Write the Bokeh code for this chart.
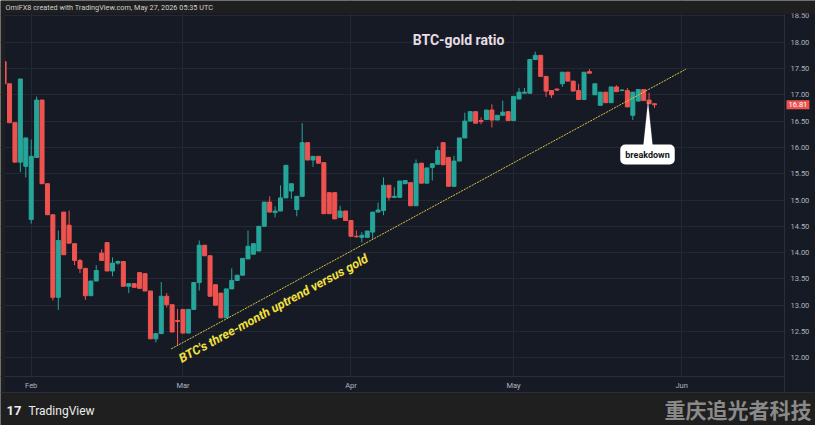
import pandas as pd
from bokeh.plotting import figure
from bokeh.models import (Range1d, FixedTicker, DatetimeTickFormatter, NumeralTickFormatter,
                          Label, ColumnDataSource, DatetimeAxis, LinearAxis, Grid,
                          BoxAnnotation, PolyAnnotation, Span)
from bokeh.embed import file_html
from bokeh.resources import INLINE

# ---------------- data ----------------
dates = pd.date_range("2026-01-27", "2026-05-27", freq="D")

opens = [17.63, 17.21, 16.47, 15.72, 15.64, 14.63, 15.81, 16.90, 15.31, 14.72,
         13.15, 14.77, 14.52, 14.17, 13.85, 13.70, 13.18, 13.46, 13.99, 14.19,
         13.65, 13.80, 13.83, 13.36, 13.41, 13.62, 13.60, 13.27, 12.36, 12.46,
         13.17, 13.01, 12.71, 12.92, 12.47, 12.92, 13.43, 14.14, 13.94, 13.39,
         13.23, 12.76, 13.31, 13.47, 13.57, 13.88, 13.97, 14.03, 14.50, 14.96,
         14.76, 14.79, 15.04, 15.17, 14.82, 15.07, 16.09, 15.76, 15.83, 15.71,
         15.14, 15.14, 14.67, 14.79, 14.61, 14.31, 14.29, 14.29, 14.39, 14.77,
         14.80, 15.28, 15.05, 15.05, 15.31, 15.33, 14.89, 15.70, 15.32, 15.62,
         15.68, 16.09, 15.81, 15.26, 15.74, 16.18, 16.50, 16.68, 16.51, 16.53,
         16.71, 16.52, 16.61, 16.68, 16.51, 16.92, 17.03, 17.03, 17.67, 17.75,
         17.35, 17.08, 17.11, 17.21, 17.43, 17.26, 17.08, 16.91, 17.44, 17.00,
         16.80, 17.05, 16.85, 17.15, 17.08, 17.08, 16.61, 16.88, 17.10, 16.90,
         16.83]
highs = [17.63, 17.21, 16.47, 17.30, 16.18, 16.15, 16.97, 16.90, 15.31, 14.72,
         14.42, 14.77, 14.80, 14.17, 13.88, 13.70, 13.46, 13.76, 14.06, 14.19,
         13.91, 13.85, 13.83, 13.41, 13.41, 13.62, 13.60, 13.27, 12.46, 13.44,
         13.23, 13.01, 12.93, 12.92, 12.92, 13.43, 14.23, 14.14, 13.94, 13.39,
         13.23, 13.31, 13.70, 13.57, 13.89, 14.42, 14.17, 14.50, 14.96, 15.07,
         14.88, 15.28, 15.66, 15.31, 15.07, 16.46, 16.09, 15.83, 15.83, 15.71,
         15.14, 15.14, 14.89, 14.79, 14.61, 14.42, 14.39, 14.41, 14.77, 14.95,
         15.43, 15.28, 15.24, 15.36, 15.37, 15.33, 15.77, 15.70, 15.61, 15.69,
         16.02, 16.09, 15.81, 15.84, 16.18, 16.66, 16.68, 16.68, 16.57, 16.71,
         16.82, 16.61, 16.89, 16.68, 16.97, 17.13, 17.13, 17.67, 17.82, 17.75,
         17.35, 17.08, 17.11, 17.43, 17.43, 17.26, 17.21, 17.43, 17.49, 17.21,
         17.05, 17.05, 17.15, 17.18, 17.11, 17.13, 17.05, 17.10, 17.10, 17.04,
         16.83]
lows = [17.21, 16.47, 15.72, 15.53, 15.43, 14.55, 15.81, 15.31, 14.72, 13.09,
        12.91, 13.96, 14.18, 13.76, 13.61, 13.10, 13.18, 13.46, 13.85, 13.65,
        13.55, 13.77, 13.36, 13.23, 13.34, 13.32, 13.27, 12.36, 12.29, 12.46,
        12.96, 12.49, 12.23, 12.47, 12.47, 12.92, 13.28, 13.94, 13.17, 13.00,
        12.76, 12.76, 13.31, 13.47, 13.57, 13.88, 13.97, 14.03, 14.50, 14.77,
        14.67, 14.79, 15.04, 15.02, 14.69, 15.07, 15.76, 15.63, 15.70, 14.74,
        14.74, 14.64, 14.67, 14.61, 14.31, 14.29, 14.19, 14.29, 14.26, 14.77,
        14.71, 14.99, 15.05, 15.05, 15.31, 14.89, 14.89, 15.32, 15.32, 15.37,
        15.68, 15.67, 15.26, 15.26, 15.74, 16.18, 16.50, 16.46, 16.44, 16.53,
        16.38, 16.52, 16.61, 16.51, 16.51, 16.92, 17.03, 17.03, 17.67, 17.35,
        16.96, 16.94, 17.07, 17.15, 17.26, 17.07, 16.91, 16.91, 17.41, 17.00,
        16.80, 16.85, 16.85, 17.06, 17.07, 16.77, 16.52, 16.88, 16.89, 16.83,
        16.75]
closes = [17.21, 16.47, 15.72, 17.30, 16.18, 15.83, 16.90, 15.31, 14.72, 13.15,
          14.23, 13.96, 14.18, 13.85, 13.70, 13.18, 13.46, 13.66, 13.85, 13.65,
          13.80, 13.83, 13.36, 13.41, 13.34, 13.32, 13.27, 12.36, 12.46, 13.17,
          13.01, 12.49, 12.69, 12.47, 12.92, 13.43, 14.14, 13.94, 13.17, 13.00,
          12.76, 13.31, 13.47, 13.57, 13.89, 14.12, 14.17, 14.50, 14.96, 14.77,
          14.79, 15.04, 15.66, 15.31, 15.07, 16.09, 15.76, 15.83, 15.70, 14.74,
          14.74, 14.64, 14.79, 14.61, 14.31, 14.30, 14.33, 14.41, 14.77, 14.81,
          15.28, 15.05, 15.07, 15.36, 15.37, 14.89, 15.69, 15.32, 15.61, 15.69,
          15.94, 15.67, 15.26, 15.74, 16.18, 16.50, 16.68, 16.46, 16.49, 16.71,
          16.52, 16.61, 16.67, 16.51, 16.97, 17.05, 17.05, 17.67, 17.75, 17.35,
          17.07, 17.00, 17.09, 17.43, 17.26, 17.07, 16.91, 17.43, 17.41, 17.21,
          17.05, 16.85, 17.15, 17.06, 17.09, 16.77, 17.05, 17.10, 16.89, 16.83,
          16.81]

month_ticks = ["2026-02-01", "2026-03-01", "2026-04-01", "2026-05-01", "2026-06-01"]
price_ticks = [12.0, 12.5, 13.0, 13.5, 14.0, 14.5, 15.0, 15.5, 16.0, 16.5, 17.0, 17.5, 18.0, 18.5]
last_price = 16.81
trend_dates = ["2026-02-26 20:00", "2026-06-01 20:00"]
trend_values = [12.17, 17.49]

title_text = "BTC-gold ratio"
trend_text = "BTC's three-month uptrend versus gold"
callout_text = "breakdown"
header_text = "OmiFX8 created with TradingView.com, May 27, 2026 05:35 UTC"
logo_text = "17"
brand_text = "TradingView"
watermark_text = "重庆追光者科技"


def ms(t):
    return pd.Timestamp(t).timestamp() * 1000.0


# ---------------- layout constants (pixels of the 815x425 canvas) ----------------
W, H = 815, 425
DAY = 86400000.0
PX_PER_DAY = 5.42
FEB1_PX = 30.7
PX_PER_UNIT = 52.6
Y12_PX = 357.3
PLOT_L, PLOT_R, PLOT_T, PLOT_B, AXIS_B = 4.5, 784, 13, 376, 392

x_start = ms("2026-02-01") - FEB1_PX / PX_PER_DAY * DAY
x_end = x_start + W / PX_PER_DAY * DAY


def xpx(px):
    return x_start + px / PX_PER_DAY * DAY


def ypx(py):
    return 12.0 + (Y12_PX - py) / PX_PER_UNIT


y_top, y_bot = ypx(0), ypx(H)

UP, DOWN = "#26a69a", "#ef5350"
BG = "#161a25"
FRAME = "#1f1f1f"
GRID = "#242834"
SEP = "#2a2e39"
TXT = "#b2b5be"

df = pd.DataFrame(dict(date=dates, open=opens, high=highs, low=lows, close=closes))
df["color"] = [UP if c >= o else DOWN for o, c in zip(opens, closes)]
df["top"] = df[["open", "close"]].max(axis=1)
df["bottom"] = df[["open", "close"]].min(axis=1)
src = ColumnDataSource(df)

p = figure(width=W, height=H, x_range=Range1d(x_start, x_end), y_range=Range1d(y_bot, y_top),
           x_axis_location=None, y_axis_location=None, min_border=0,
           output_backend="svg", toolbar_location=None,
           background_fill_color=BG, border_fill_color=FRAME, outline_line_color=None)
# drop the default grids; our own follow the month / price tickers
p.center = [r for r in p.center if not isinstance(r, Grid)]

month_ticker = FixedTicker(ticks=[ms(t) for t in month_ticks])
price_ticker = FixedTicker(ticks=price_ticks)
p.add_layout(Grid(dimension=0, ticker=month_ticker, grid_line_color=GRID))
p.add_layout(Grid(dimension=1, ticker=price_ticker, grid_line_color=GRID))

# axis bands (hide grid lines under the scales)
p.quad(left=[xpx(PLOT_L)], right=[xpx(PLOT_R)], bottom=[ypx(AXIS_B)], top=[ypx(PLOT_B)],
       fill_color=BG, line_color=None)
p.quad(left=[xpx(PLOT_R)], right=[x_end], bottom=[ypx(AXIS_B)], top=[ypx(PLOT_T)],
       fill_color=BG, line_color=None)

# candles
p.segment(x0="date", y0="high", x1="date", y1="low", line_color="color", line_width=1, source=src)
p.vbar(x="date", width=0.74 * DAY, top="top", bottom="bottom",
       fill_color="color", line_color="color", line_width=1, source=src)

# trend line
p.line(x=[ms(t) for t in trend_dates], y=trend_values, line_color="#d9c742",
       line_width=1, line_dash="2 1")

# axes placed inside the canvas frame
xaxis = DatetimeAxis(fixed_location=ypx(PLOT_B), bounds=(x_start, xpx(PLOT_R)),
                     ticker=month_ticker,
                     formatter=DatetimeTickFormatter(
                         microseconds="%b", milliseconds="%b", seconds="%b", minsec="%b",
                         minutes="%b", hourmin="%b", hours="%b", days="%b", months="%b",
                         years="%b"))
yaxis = LinearAxis(fixed_location=xpx(PLOT_R), bounds=(ypx(AXIS_B), ypx(PLOT_T)),
                   ticker=price_ticker, formatter=NumeralTickFormatter(format="0.00"))
for ax in (xaxis, yaxis):
    ax.major_tick_line_color = None
    ax.minor_tick_line_color = None
    ax.major_tick_out = 0
    ax.major_tick_in = 0
    ax.minor_tick_out = 0
    ax.minor_tick_in = 0
    ax.axis_line_color = SEP
    ax.major_label_text_color = TXT
    ax.major_label_text_font = "Roboto"
    ax.major_label_text_font_size = "7.5px"
xaxis.major_label_standoff = 4
yaxis.major_label_standoff = 6
p.add_layout(xaxis, "below")
p.add_layout(yaxis, "right")

# outer frame bands
for l, r, b, t in [(x_start, x_end, ypx(PLOT_T), y_top),
                   (x_start, xpx(PLOT_L), ypx(AXIS_B), ypx(PLOT_T)),
                   (x_start, x_end, y_bot, ypx(AXIS_B))]:
    p.add_layout(BoxAnnotation(left=l, right=r, bottom=b, top=t, fill_color=FRAME,
                               fill_alpha=1.0, line_color=None))
p.add_layout(Span(location=ypx(AXIS_B), dimension="width", line_color=SEP, line_width=1))

# title
p.add_layout(Label(x=xpx(458), y=ypx(39.7), text=title_text, text_align="center",
                   text_baseline="alphabetic", text_font="Roboto", text_font_style="bold",
                   text_font_size="14px", text_color="#e6dde4"))

# trend text
p.add_layout(Label(x=xpx(179), y=ypx(358.5), text=trend_text, angle=0.497,
                   text_align="left", text_baseline="alphabetic", text_font="Roboto",
                   text_font_style="bold italic", text_font_size="12.5px", text_color="#f3e03c"))

# breakdown callout
p.add_layout(PolyAnnotation(xs=[xpx(642.7), xpx(647.5), xpx(652.3)],
                            ys=[ypx(147), ypx(101.5), ypx(147)],
                            fill_color="white", fill_alpha=1.0, line_color="white",
                            line_width=0.5))
p.add_layout(Label(x=xpx(647), y=ypx(154), text=callout_text, text_align="center",
                   text_baseline="middle", text_font="Roboto", text_font_style="bold",
                   text_font_size="9px", text_color="#131722", background_fill_color="white",
                   padding=5, border_radius=5))

# last price tag on the price scale
p.add_layout(Label(x=xpx(786), y=last_price, text=f"{last_price:.2f}", text_align="left",
                   text_baseline="middle", text_font="Roboto", text_font_size="7.5px",
                   text_color="white", background_fill_color=DOWN, padding=2))

# header / footer
p.add_layout(Label(x=xpx(5), y=ypx(7.3), text=header_text, text_baseline="middle",
                   text_font="Roboto", text_font_size="7.3px", text_color="#cfcfcf"))
p.add_layout(Label(x=xpx(6), y=ypx(410), text=logo_text, text_baseline="middle",
                   text_font="Roboto", text_font_style="bold", text_font_size="13px",
                   text_color="#ececec"))
p.add_layout(Label(x=xpx(28), y=ypx(410), text=brand_text, text_baseline="middle",
                   text_font="Roboto", text_font_size="12px", text_color="#ececec"))
p.add_layout(Label(x=xpx(W - 4), y=ypx(408), text=watermark_text, text_align="right",
                   text_baseline="middle", text_font="Noto Sans CJK SC", text_font_style="bold",
                   text_font_size="21px", text_color="#8a8a8a"))

open("out.html", "w").write(file_html(p, INLINE))
